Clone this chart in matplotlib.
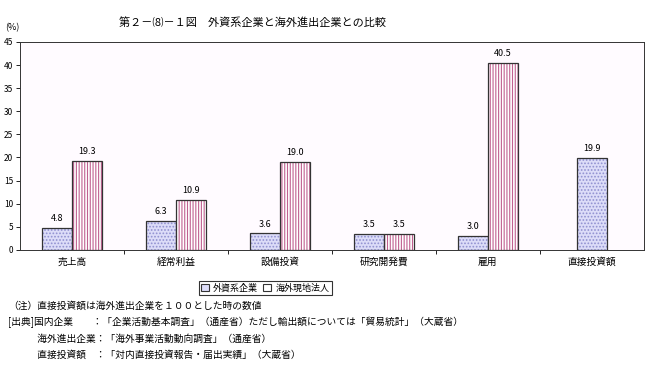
import matplotlib
matplotlib.use('Agg')
import matplotlib.pyplot as plt
from matplotlib.patches import Patch
import numpy as np

plt.rcParams['font.family'] = ['Noto Sans CJK JP', 'DejaVu Sans']
plt.rcParams['hatch.linewidth'] = 0.8

# data
categories = ['売上高', '経常利益', '設備投資', '研究開発費', '雇用', '直接投資額']
foreign_firms = [4.8, 6.3, 3.6, 3.5, 3.0, 19.9]
overseas_affiliates = [19.3, 10.9, 19.0, 3.5, 40.5, None]
series_names = ['外資系企業', '海外現地法人']

blue_style = dict(color='#DCDCF8', edgecolor='#9090D0', hatch='.....', linewidth=0)
pink_style = dict(color='white', edgecolor='#C06090', hatch='||||||', linewidth=0)

fig = plt.figure(figsize=(6.47, 3.78), dpi=100)
ax = fig.add_axes([0.031, 0.339, 0.964, 0.55])
ax.set_facecolor('#FFFBFF')

x = np.arange(len(categories))
w = 0.29
for i in range(len(categories)):
    v = foreign_firms[i]
    pos = x[i] - w / 2 if overseas_affiliates[i] is not None else x[i]
    ax.bar(pos, v, w, **blue_style)
    ax.bar(pos, v, w, fill=False, edgecolor='#333333', linewidth=0.9)
    ax.text(pos, v + 1.0, f'{v:.1f}', ha='center', va='bottom', fontsize=6.5)
    v2 = overseas_affiliates[i]
    if v2 is not None:
        ax.bar(x[i] + w / 2, v2, w, **pink_style)
        ax.bar(x[i] + w / 2, v2, w, fill=False, edgecolor='#333333', linewidth=0.9)
        ax.text(x[i] + w / 2, v2 + 1.0, f'{v2:.1f}', ha='center', va='bottom', fontsize=6.5)

ax.set_xlim(-0.5, len(categories) - 0.5)
ax.set_ylim(0, 45)
ax.set_yticks(np.arange(0, 46, 5))
ax.tick_params(axis='y', labelsize=6, length=3, width=0.6, pad=2)
ax.set_xticks(x)
ax.set_xticklabels(categories, fontsize=7)
ax.tick_params(axis='x', length=0, pad=5)
ax.set_xticks(np.arange(0.5, len(categories) - 0.5), minor=True)
ax.tick_params(axis='x', which='minor', length=3, width=0.6, direction='out')
for s in ax.spines.values():
    s.set_linewidth(0.7)
    s.set_color('#333333')

fig.text(0.39, 0.94, '第２－⑻－１図　外資系企業と海外進出企業との比較', ha='center', va='center', fontsize=8)
fig.text(0.008, 0.928, '(%)', ha='left', va='center', fontsize=6.5)

legend_blue = dict(blue_style, hatch='...')
legend_pink = dict(pink_style, hatch='|||')
outline = dict(fill=False, edgecolor='#333333', linewidth=0.8)
handles = [(Patch(**legend_blue), Patch(**outline)), (Patch(**legend_pink), Patch(**outline))]
leg = fig.legend(handles, series_names, loc='center', bbox_to_anchor=(0.41, 0.238), ncol=2,
                 fontsize=6.5, frameon=True, fancybox=False, edgecolor='black',
                 handlelength=0.8, handleheight=0.8, handletextpad=0.5, columnspacing=0.6,
                 borderpad=0.3)
leg.get_frame().set_linewidth(0.8)

notes = ['（注）直接投資額は海外進出企業を１００とした時の数値',
         '[出典]国内企業　　：「企業活動基本調査」（通産省）ただし輸出額については「貿易統計」（大蔵省）',
         '　　　海外進出企業：「海外事業活動動向調査」（通産省）',
         '　　　直接投資額　：「対内直接投資報告・届出実績」（大蔵省）']
for i, t in enumerate(notes):
    fig.text(0.012, 0.19 - i * 0.043, t, ha='left', va='center', fontsize=7)

fig.savefig('out.png', dpi=100)
